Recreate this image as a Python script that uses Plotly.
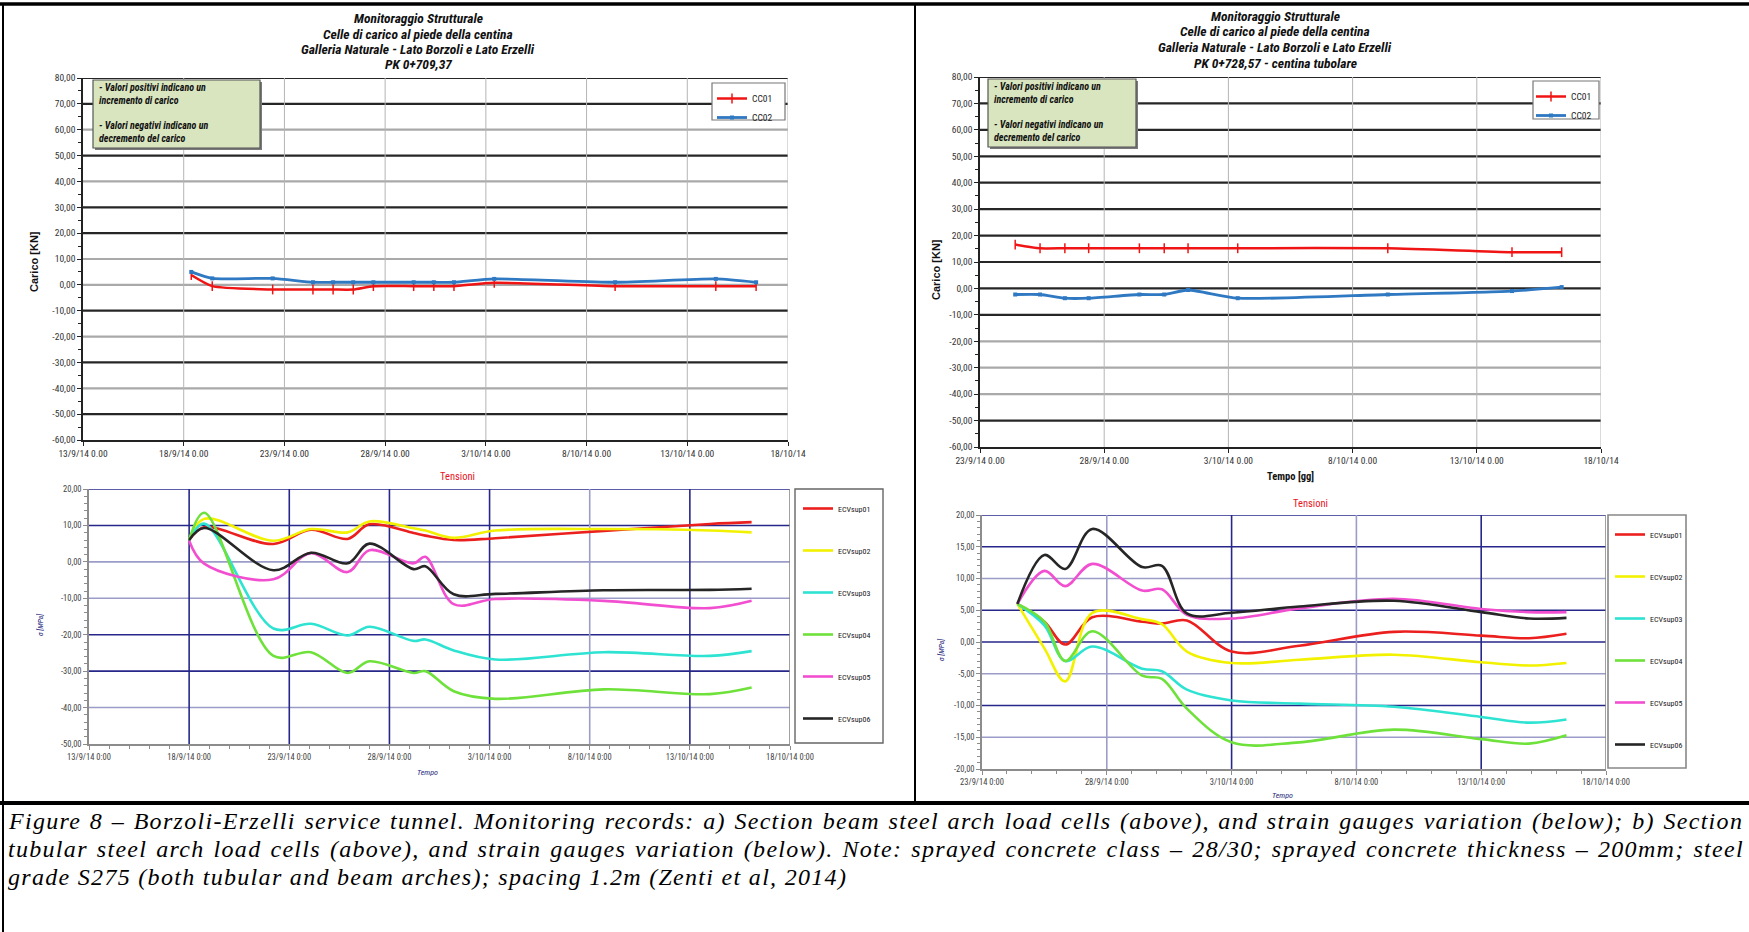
import plotly.graph_objects as go

W, H = 1749, 932

# ---------------- load cells, PK 0+709,37 (beam arch) ----------------
CC_A_DATES = ["2014-09-18 09:00", "2014-09-19 10:00", "2014-09-22 10:00", "2014-09-24 10:00",
              "2014-09-25 10:00", "2014-09-26 10:00", "2014-09-27 10:00", "2014-09-29 10:00",
              "2014-09-30 10:00", "2014-10-01 10:00", "2014-10-03 10:00", "2014-10-09 10:00",
              "2014-10-14 10:00", "2014-10-16 10:00"]
CC01_A = [3.8, -0.5, -1.8, -1.8, -1.8, -1.8, -0.5, -0.5, -0.5, -0.5, 0.8, -0.5, -0.5, -0.5]
CC02_A = [5.0, 2.5, 2.5, 1.0, 1.0, 1.0, 1.0, 1.0, 1.0, 1.0, 2.3, 1.0, 2.3, 1.0]

# ---------------- load cells, PK 0+728,57 (tubular arch) ----------------
CC_B_DATES = ["2014-09-24 10:00", "2014-09-25 10:00", "2014-09-26 10:00", "2014-09-27 09:00",
              "2014-09-29 10:00", "2014-09-30 10:00", "2014-10-01 09:00", "2014-10-03 09:00",
              "2014-10-09 10:00", "2014-10-14 10:00", "2014-10-16 10:00"]
CC01_B = [16.6, 15.2, 15.2, 15.2, 15.2, 15.2, 15.2, 15.2, 15.2, 13.7, 13.7]
CC02_B = [-2.3, -2.3, -3.7, -3.7, -2.3, -2.3, -0.6, -3.7, -2.3, -1.0, 0.5]

# ---------------- strain gauges, beam arch ----------------
SG_A_DATES = ["2014-09-18 00:00", "2014-09-18 18:00", "2014-09-22 05:00", "2014-09-24 02:00",
              "2014-09-25 22:00", "2014-09-27 00:00", "2014-09-29 05:00", "2014-09-29 19:00",
              "2014-10-01 05:00", "2014-10-03 07:00", "2014-10-08 17:00", "2014-10-14 00:00",
              "2014-10-16 02:00"]
ECV01_A = [6.0, 9.5, 4.9, 8.8, 6.3, 10.3, 7.9, 7.2, 6.0, 6.5, 8.5, 10.4, 10.9]
ECV02_A = [6.0, 11.8, 5.8, 9.0, 8.1, 11.1, 9.2, 8.6, 6.6, 8.6, 9.0, 8.6, 8.1]
ECV03_A = [6.0, 10.5, -18.3, -17.0, -20.2, -17.8, -21.7, -21.3, -24.3, -26.8, -24.8, -25.8, -24.5]
ECV04_A = [6.0, 13.5, -25.8, -24.8, -30.5, -27.3, -30.5, -30.0, -35.5, -37.6, -35.0, -36.3, -34.5]
ECV05_A = [5.8, -0.5, -4.8, 2.4, -2.8, 3.2, -0.4, 1.4, -11.6, -10.2, -10.7, -12.7, -10.7]
ECV06_A = [6.0, 9.3, -2.3, 2.5, -0.4, 5.0, -2.0, -1.2, -8.9, -8.8, -7.8, -7.7, -7.4]

# ---------------- strain gauges, tubular arch ----------------
SG_B_DATES = ["2014-09-24 10:00", "2014-09-25 12:00", "2014-09-26 08:00", "2014-09-27 10:00",
              "2014-09-29 10:00", "2014-09-30 05:00", "2014-10-01 05:00", "2014-10-03 00:00",
              "2014-10-05 17:00", "2014-10-09 12:00", "2014-10-13 00:00", "2014-10-14 22:00",
              "2014-10-16 10:00"]
ECV01_B = [6.0, 3.2, -0.4, 3.9, 3.2, 2.9, 3.4, -1.5, -0.6, 1.6, 1.0, 0.6, 1.3]
ECV02_B = [6.0, -1.0, -6.2, 4.6, 3.6, 2.8, -1.5, -3.3, -2.8, -2.0, -3.2, -3.7, -3.3]
ECV03_B = [6.0, 2.6, -3.0, -0.7, -4.2, -4.6, -7.5, -9.2, -9.7, -10.2, -11.8, -12.7, -12.2]
ECV04_B = [6.0, 3.2, -3.0, 1.7, -5.3, -5.8, -10.5, -15.8, -15.8, -13.8, -15.3, -16.0, -14.7]
ECV05_B = [6.0, 11.2, 8.8, 12.3, 8.1, 8.3, 4.3, 3.7, 5.3, 6.8, 5.2, 4.7, 4.7]
ECV06_B = [6.0, 13.7, 11.5, 17.8, 11.8, 12.0, 4.5, 4.6, 5.6, 6.5, 4.7, 3.7, 3.8]

GAUGE_NAMES = ["ECVsup01", "ECVsup02", "ECVsup03", "ECVsup04", "ECVsup05", "ECVsup06"]
GAUGE_COLORS = ["#ec1f1f", "#f2f200", "#2fe3d2", "#6ee23a", "#f24fd0", "#262626"]

# ---------------- axis ticks ----------------
X_TICKS_A = ["2014-09-13", "2014-09-18", "2014-09-23", "2014-09-28", "2014-10-03",
             "2014-10-08", "2014-10-13", "2014-10-18"]
X_LABELS_A_TOP = ["13/9/14 0.00", "18/9/14 0.00", "23/9/14 0.00", "28/9/14 0.00",
                  "3/10/14 0.00", "8/10/14 0.00", "13/10/14 0.00", "18/10/14"]
X_LABELS_A_BOT = ["13/9/14 0:00", "18/9/14 0:00", "23/9/14 0:00", "28/9/14 0:00",
                  "3/10/14 0:00", "8/10/14 0:00", "13/10/14 0:00", "18/10/14 0:00"]
X_TICKS_B = ["2014-09-23", "2014-09-28", "2014-10-03", "2014-10-08", "2014-10-13", "2014-10-18"]
X_LABELS_B_TOP = ["23/9/14 0.00", "28/9/14 0.00", "3/10/14 0.00", "8/10/14 0.00",
                  "13/10/14 0.00", "18/10/14"]
X_LABELS_B_BOT = ["23/9/14 0:00", "28/9/14 0:00", "3/10/14 0:00", "8/10/14 0:00",
                  "13/10/14 0:00", "18/10/14 0:00"]
LOAD_Y_TICKS = [80, 70, 60, 50, 40, 30, 20, 10, 0, -10, -20, -30, -40, -50, -60]
STRAIN_A_Y_TICKS = [20, 10, 0, -10, -20, -30, -40, -50]
STRAIN_B_Y_TICKS = [20, 15, 10, 5, 0, -5, -10, -15, -20]

NARROW = "Liberation Sans Narrow, Arial Narrow, Roboto Condensed, Liberation Sans, sans-serif"
SERIF = "Liberation Serif, Times New Roman, serif"

DARK, GREY = "#262626", "#a9a9a9"
NAVY, LAV = "#27278a", "#9c9cc8"

# colours of the horizontal grid lines, one per tick (top to bottom)
GRID_TL = [DARK, DARK, GREY, DARK, GREY, DARK, DARK, GREY, GREY, DARK, GREY, DARK, GREY, DARK]
GRID_TR = [DARK, DARK, DARK, DARK, DARK, DARK, DARK, DARK, DARK, DARK, GREY, GREY, GREY, DARK]
GRID_BL_H = [NAVY, NAVY, LAV, LAV, NAVY, NAVY, LAV]
GRID_BL_V = [NAVY, NAVY, NAVY, NAVY, LAV, NAVY, "#8a8a8a"]
GRID_BR_H = [NAVY, NAVY, LAV, NAVY, NAVY, LAV, NAVY, LAV]
GRID_BR_V = [LAV, NAVY, LAV, NAVY, "#8a8a8a"]


def fx(px):
    return px / W


def fy(py):
    return 1 - py / H


def num_label(v):
    return f"{v:.2f}".replace(".", ",")


fig = go.Figure()

# ---------------- traces ----------------
fig.add_trace(go.Scatter(x=CC_A_DATES, y=CC01_A, name="CC01", xaxis="x", yaxis="y",
                         mode="lines+markers", line=dict(color="#f01414", width=2.5, shape="spline", smoothing=0.6),
                         marker=dict(symbol="line-ns", size=7, line=dict(color="#f01414", width=1.5)),
                         legend="legend", legendgroup="a1"))
fig.add_trace(go.Scatter(x=CC_A_DATES, y=CC02_A, name="CC02", xaxis="x", yaxis="y",
                         mode="lines+markers", line=dict(color="#2f78c2", width=2.8, shape="spline", smoothing=0.6),
                         marker=dict(symbol="square", size=4, color="#2f78c2"),
                         legend="legend", legendgroup="a2"))
fig.add_trace(go.Scatter(x=CC_B_DATES, y=CC01_B, name="CC01", xaxis="x2", yaxis="y2",
                         mode="lines+markers", line=dict(color="#f01414", width=2.5, shape="spline", smoothing=0.6),
                         marker=dict(symbol="line-ns", size=7, line=dict(color="#f01414", width=1.5)),
                         legend="legend2", legendgroup="b1"))
fig.add_trace(go.Scatter(x=CC_B_DATES, y=CC02_B, name="CC02", xaxis="x2", yaxis="y2",
                         mode="lines+markers", line=dict(color="#2f78c2", width=2.8, shape="spline", smoothing=0.6),
                         marker=dict(symbol="square", size=4, color="#2f78c2"),
                         legend="legend2", legendgroup="b2"))

for i, (name, ys) in enumerate(zip(GAUGE_NAMES, [ECV01_A, ECV02_A, ECV03_A, ECV04_A, ECV05_A, ECV06_A])):
    fig.add_trace(go.Scatter(x=SG_A_DATES, y=ys, name=name, xaxis="x3", yaxis="y3", mode="lines",
                             line=dict(color=GAUGE_COLORS[i], width=2.6, shape="spline", smoothing=1.0),
                             legend="legend3", legendgroup=f"ga{i}"))
for i, (name, ys) in enumerate(zip(GAUGE_NAMES, [ECV01_B, ECV02_B, ECV03_B, ECV04_B, ECV05_B, ECV06_B])):
    fig.add_trace(go.Scatter(x=SG_B_DATES, y=ys, name=name, xaxis="x4", yaxis="y4", mode="lines",
                             line=dict(color=GAUGE_COLORS[i], width=2.6, shape="spline", smoothing=1.0),
                             legend="legend4", legendgroup=f"gb{i}"))

# ---------------- axes ----------------
tick_font_top = dict(family=NARROW, size=9.5, color="#333")
tick_font_bot = dict(family=NARROW, size=8.5, color="#444")


def xaxis_cfg(x0, x1, anchor, rng, ticks, labels, font, minor_dtick=None, line_color="#222"):
    cfg = dict(domain=[fx(x0), fx(x1)], anchor=anchor, type="date", range=rng, automargin=False,
               tickmode="array", tickvals=ticks, ticktext=labels, tickangle=0,
               tickfont=font, showgrid=False, zeroline=False, showline=True,
               linecolor=line_color, linewidth=1.5, ticks="outside", ticklen=4,
               tickcolor=line_color)
    if minor_dtick:
        cfg["minor"] = dict(dtick=minor_dtick, tick0=rng[0], ticks="outside", ticklen=3,
                            tickcolor=line_color, showgrid=False)
    return cfg


def yaxis_cfg(y0, y1, anchor, rng, ticks, font, minor_dtick, line_color="#222"):
    return dict(domain=[fy(y1), fy(y0)], anchor=anchor, range=rng, tickmode="array", automargin=False,
                tickvals=ticks, ticktext=[num_label(v) for v in ticks], tickfont=font,
                showgrid=False, zeroline=False, showline=True, linecolor=line_color,
                linewidth=1.5, ticks="outside", ticklen=4, tickcolor=line_color,
                minor=dict(dtick=minor_dtick, ticks="outside", ticklen=3, tickcolor=line_color,
                           showgrid=False))


DAY = 86400000
fig.update_layout(
    xaxis=xaxis_cfg(83, 788, "y", ["2014-09-13", "2014-10-18"], X_TICKS_A, X_LABELS_A_TOP, tick_font_top),
    yaxis=yaxis_cfg(78, 440, "x", [-60, 80], LOAD_Y_TICKS, tick_font_top, 5),
    xaxis2=xaxis_cfg(980, 1601, "y2", ["2014-09-23", "2014-10-18"], X_TICKS_B, X_LABELS_B_TOP, tick_font_top),
    yaxis2=yaxis_cfg(77, 447, "x2", [-60, 80], LOAD_Y_TICKS, tick_font_top, 5),
    xaxis3=xaxis_cfg(89, 790, "y3", ["2014-09-13", "2014-10-18"], X_TICKS_A, X_LABELS_A_BOT, tick_font_bot,
                     minor_dtick=DAY, line_color="#8c8c8c"),
    yaxis3=yaxis_cfg(489, 744, "x3", [-50, 20], STRAIN_A_Y_TICKS, tick_font_bot, 2, line_color="#8c8c8c"),
    xaxis4=xaxis_cfg(982, 1606, "y4", ["2014-09-23", "2014-10-18"], X_TICKS_B, X_LABELS_B_BOT, tick_font_bot,
                     minor_dtick=DAY, line_color="#8c8c8c"),
    yaxis4=yaxis_cfg(515, 769, "x4", [-20, 20], STRAIN_B_Y_TICKS, tick_font_bot, 1, line_color="#8c8c8c"),
)

shapes = []


def hgrid(xa, ya, values, colors, width):
    for v, c in zip(values, colors):
        shapes.append(dict(type="line", xref=f"{xa} domain", yref=ya, x0=0, x1=1, y0=v, y1=v,
                           line=dict(color=c, width=width), layer="below"))


def vgrid(xa, ya, values, colors, width):
    for v, c in zip(values, colors):
        shapes.append(dict(type="line", xref=xa, yref=f"{ya} domain", x0=v, x1=v, y0=0, y1=1,
                           line=dict(color=c, width=width), layer="below"))


hgrid("x", "y", LOAD_Y_TICKS[:-1], GRID_TL, 2.2)
vgrid("x", "y", X_TICKS_A[1:], ["#b5b5b5"] * 7, 1)
hgrid("x2", "y2", LOAD_Y_TICKS[:-1], GRID_TR, 2.2)
vgrid("x2", "y2", X_TICKS_B[1:], ["#b5b5b5"] * 5, 1)
hgrid("x3", "y3", STRAIN_A_Y_TICKS[:-1], GRID_BL_H, 1.6)
vgrid("x3", "y3", X_TICKS_A[1:], GRID_BL_V, 1.6)
hgrid("x4", "y4", STRAIN_B_Y_TICKS[:-1], GRID_BR_H, 1.6)
vgrid("x4", "y4", X_TICKS_B[1:], GRID_BR_V, 1.6)


def rect(x0, y0, x1, y1, fill="rgba(0,0,0,0)", color="#444", width=1.2):
    shapes.append(dict(type="rect", xref="paper", yref="paper", x0=fx(x0), x1=fx(x1),
                       y0=fy(y1), y1=fy(y0), fillcolor=fill, line=dict(color=color, width=width)))


def pline(x0, y0, x1, y1, width, color="#000"):
    shapes.append(dict(type="line", xref="paper", yref="paper", x0=fx(x0), x1=fx(x1),
                       y0=fy(y0), y1=fy(y1), line=dict(color=color, width=width)))


# note boxes (with a slight shadow)
for (x0, y0, x1, y1) in [(93, 80, 260, 148), (988, 79, 1136, 147)]:
    rect(x0 + 2, y0 + 2, x1 + 2, y1 + 2, fill="#7a7a7a", color="#7a7a7a", width=0)
    rect(x0, y0, x1, y1, fill="#d9e5bf", color="#555", width=1.2)

# legend frames
rect(712, 83, 785, 120, fill="white", color="#777", width=1.2)
rect(1533, 81, 1599, 119, fill="white", color="#777", width=1.2)
rect(795, 489, 883, 743, fill="white", color="#666", width=1.4)
rect(1608, 515, 1686, 768, fill="white", color="#888", width=1.6)

# page frame
pline(0, 4, W, 4, 3.5)
pline(3, 4, 3, H, 2)
pline(915, 4, 915, 803, 2)
pline(0, 803, W, 803, 4)

ann = []


def text(x, y, s, size, color="#111", family=NARROW, xanchor="center", yanchor="middle",
         angle=0, align="center"):
    ann.append(dict(x=fx(x), y=fy(y), xref="paper", yref="paper", text=s, showarrow=False,
                    font=dict(family=family, size=size, color=color), xanchor=xanchor,
                    yanchor=yanchor, textangle=angle, align=align))


TITLE_A = ["Monitoraggio Strutturale", "Celle di carico al piede della centina",
           "Galleria Naturale - Lato Borzoli e Lato Erzelli", "PK 0+709,37"]
TITLE_B = ["Monitoraggio Strutturale", "Celle di carico al piede della centina",
           "Galleria Naturale - Lato Borzoli e Lato Erzelli", "PK 0+728,57 - centina tubolare"]
for i, s in enumerate(TITLE_A):
    text(418, 18 + i * 15.5, f"<b><i>{s}</i></b>", 13.5)
for i, s in enumerate(TITLE_B):
    text(1275, 16 + i * 15.5, f"<b><i>{s}</i></b>", 13.5)

NOTE_1 = "<b><i>- Valori positivi indicano un<br>incremento di carico</i></b>"
NOTE_2 = "<b><i>- Valori negativi indicano un<br>decremento del carico</i></b>"
for bx, by in [(97, 0), (992, -1)]:
    text(bx, 94 + by, NOTE_1, 10, xanchor="left", align="left")
    text(bx, 132 + by, NOTE_2, 10, xanchor="left", align="left")

text(34, 262, "<b>Carico [KN]</b>", 11, angle=-90, family="Liberation Sans, Arial, sans-serif")
text(936, 270, "<b>Carico [KN]</b>", 11, angle=-90, family="Liberation Sans, Arial, sans-serif")
text(1290, 476, "<b>Tempo [gg]</b>", 10.5)

text(457, 476, "Tensioni", 10.5, color="#e8141e")
text(1310, 503, "Tensioni", 10.5, color="#e8141e")
text(40, 625, "<i>σ [MPa]</i>", 7.5, color="#1f1f7a", angle=-90)
text(941, 650, "<i>σ [MPa]</i>", 7.5, color="#1f1f7a", angle=-90)
text(427, 772, "<i>Tempo</i>", 8, color="#1f1f7a")
text(1282, 795, "<i>Tempo</i>", 8, color="#1f1f7a")

CAPTION = [
    "Figure 8 – Borzoli-Erzelli service tunnel. Monitoring records: a) Section beam steel arch load cells "
    "(above), and strain gauges variation (below); b) Section",
    "tubular steel arch load cells (above), and strain gauges variation (below). Note: sprayed concrete "
    "class – 28/30; sprayed concrete thickness – 200mm; steel",
    "grade S275 (both tubular and beam arches); spacing 1.2m (Zenti et al, 2014)",
]
# letter / word spacing per caption line (the first two lines are justified)
CAPTION_SPACING = [(1.3, 1.3), (1.3, 1.7), (1.3, 0.0)]

for i, s in enumerate(CAPTION):
    ls, ws = CAPTION_SPACING[i]
    styled = f"<span style='letter-spacing:{ls}px; word-spacing:{ws}px'><i>{s}</i></span>"
    text(6, 821 + i * 28, styled, 24, color="#000", family=SERIF, xanchor="left", align="left")

fig.update_layout(shapes=shapes, annotations=ann)

legend_top = dict(font=dict(family=NARROW, size=9.5, color="#222"), bgcolor="rgba(0,0,0,0)",
                  borderwidth=0, xanchor="left", yanchor="top", itemwidth=30, tracegroupgap=0,
                  itemclick=False, itemdoubleclick=False)
legend_bot = dict(font=dict(family=NARROW, size=8, color="#222"), bgcolor="rgba(0,0,0,0)",
                  borderwidth=0, xanchor="left", yanchor="top", itemwidth=30, tracegroupgap=23,
                  itemclick=False, itemdoubleclick=False)

fig.update_layout(
    width=W, height=H, margin=dict(l=0, r=0, t=0, b=0, autoexpand=False),
    paper_bgcolor="white", plot_bgcolor="white",
    showlegend=True,
    legend=dict(legend_top, x=fx(712), y=fy(84)),
    legend2=dict(legend_top, x=fx(1531), y=fy(82)),
    legend3=dict(legend_bot, x=fx(798), y=fy(494)),
    legend4=dict(legend_bot, x=fx(1610), y=fy(520)),
)

fig.write_html("out.html")
